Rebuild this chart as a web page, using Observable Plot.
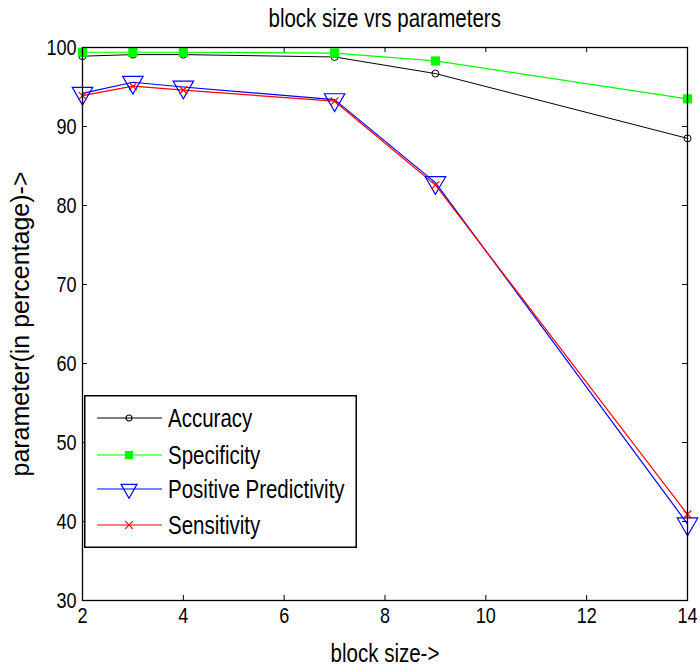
<!DOCTYPE html>
<html>
<head>
<meta charset="utf-8">
<script src="https://cdn.jsdelivr.net/npm/d3@7"></script>
<script src="https://cdn.jsdelivr.net/npm/@observablehq/plot@0.6"></script>
<style>
  html, body { margin: 0; padding: 0; background: #fff; }
  #wrap { position: relative; width: 700px; height: 669px; overflow: hidden; font-family: "Liberation Sans", Arial, sans-serif; }
  #title { height: 34px; line-height: 36px; font-size: 25px; text-align: center; padding-left: 82px; padding-right: 13px; color: #000; white-space: nowrap; }
  #title span { display: inline-block; transform: scaleX(0.82); }
  #legend { position: absolute; left: 84px; top: 395px; }
</style>
</head>
<body>
<div id="wrap">
  <div id="title"><span></span></div>
  <div id="chart"></div>
</div>
<script>
const titleText = "block size vrs parameters";
const xLabel = "block size->";
const yLabel = "parameter(in percentage)->";

const blockSize = [2, 3, 4, 7, 9, 14];
const accuracy = [98.9, 99.1, 99.1, 98.8, 96.7, 88.5];
const specificity = [99.4, 99.4, 99.4, 99.3, 98.3, 93.5];
const positivePredictivity = [94.2, 95.6, 95.0, 93.4, 82.9, 39.7];
const sensitivity = [93.9, 95.1, 94.6, 93.2, 82.6, 40.9];

const xTicks = [2, 4, 6, 8, 10, 12, 14];
const yTicks = [30, 40, 50, 60, 70, 80, 90, 100];

const seriesNames = ["Accuracy", "Specificity", "Positive Predictivity", "Sensitivity"];
const seriesValues = [accuracy, specificity, positivePredictivity, sensitivity];
const seriesColors = ["#000000", "#00ff00", "#0000ff", "#ff0000"];

const rows = seriesNames.map((name, i) => blockSize.map((x, j) => ({series: name, x, y: seriesValues[i][j]}))).flat();
const bySeries = name => rows.filter(d => d.series === name);

document.querySelector("#title span").textContent = titleText;

const W = 700, H = 635;
const mL = 82, mR = 13, mT = 13, mB = 69;
const innerW = W - mL - mR, innerH = H - mT - mB;
const tickLen = 5;
const font = "Liberation Sans, Arial, sans-serif";
const narrow = 0.82; // emulate the narrow sans of the original

const chart = Plot.plot({
  width: W,
  height: H,
  marginLeft: mL,
  marginRight: mR,
  marginTop: mT,
  marginBottom: mB,
  style: {fontFamily: font, color: "#000", background: "#fff"},
  x: {domain: [2, 14]},
  y: {domain: [30, 100]},
  marks: [
    Plot.axisX({ticks: xTicks, tickSize: 0, tickPadding: 7, fontSize: 22, label: null}),
    Plot.axisY({ticks: yTicks, tickSize: 0, tickPadding: 6, fontSize: 22, label: null}),
    Plot.tickX(xTicks, {x: d => d, insetTop: innerH - tickLen, stroke: "#000"}),
    Plot.tickX(xTicks, {x: d => d, insetBottom: innerH - tickLen, stroke: "#000"}),
    Plot.tickY(yTicks, {y: d => d, insetRight: innerW - tickLen, stroke: "#000"}),
    Plot.tickY(yTicks, {y: d => d, insetLeft: innerW - tickLen, stroke: "#000"}),
    Plot.line(bySeries("Accuracy"), {x: "x", y: "y", stroke: seriesColors[0], strokeWidth: 1}),
    Plot.line(bySeries("Specificity"), {x: "x", y: "y", stroke: seriesColors[1], strokeWidth: 1.2}),
    Plot.line(bySeries("Positive Predictivity"), {x: "x", y: "y", stroke: seriesColors[2], strokeWidth: 1.2}),
    Plot.line(bySeries("Sensitivity"), {x: "x", y: "y", stroke: seriesColors[3], strokeWidth: 1.2}),
    Plot.dot(bySeries("Accuracy"), {x: "x", y: "y", symbol: "circle", r: 3.5, stroke: seriesColors[0], fill: "none", strokeWidth: 1}),
    Plot.dot(bySeries("Specificity"), {x: "x", y: "y", symbol: "square", r: 5.2, fill: seriesColors[1], stroke: "none"}),
    Plot.dot(bySeries("Positive Predictivity"), {x: "x", y: "y", symbol: "triangle", r: 7.6, rotate: 180, stroke: seriesColors[2], fill: "none", strokeWidth: 1.2}),
    Plot.dot(bySeries("Sensitivity"), {x: "x", y: "y", symbol: "times", r: 3.6, stroke: seriesColors[3], strokeWidth: 1.2}),
    Plot.frame({stroke: "#000", strokeWidth: 1.3}),
    Plot.text([xLabel], {frameAnchor: "bottom", dy: 44, fontSize: 25, lineAnchor: "top", fill: "#000"}),
    Plot.text([yLabel], {frameAnchor: "left", textAnchor: "middle", dx: -62, rotate: -90, fontSize: 25, fill: "#000"})
  ]
});
document.getElementById("chart").appendChild(chart);

function condense(el) {
  const w = el.getComputedTextLength();
  if (w > 0) {
    el.setAttribute("textLength", (w * narrow).toFixed(2));
    el.setAttribute("lengthAdjust", "spacingAndGlyphs");
  }
}
chart.querySelectorAll("text").forEach(t => {
  if (t.textContent !== yLabel) condense(t);
});

// Legend box (MATLAB-style) drawn with d3
const lw = 273, lh = 153;
const legend = d3.select("#wrap").append("svg")
  .attr("id", "legend")
  .attr("width", lw)
  .attr("height", lh)
  .style("font-family", font);
legend.append("rect").attr("x", 0.75).attr("y", 0.75).attr("width", lw - 1.5).attr("height", lh - 1.5)
  .attr("fill", "#fff").attr("stroke", "#000").attr("stroke-width", 1.5);
const rowY = [23, 60, 94, 130];
const symbols = [
  {type: d3.symbolCircle, r: 3, fill: "none"},
  {type: d3.symbolSquare2, r: 5.2, fill: "#00ff00"},
  {type: d3.symbolTriangle2, r: 7.6, fill: "none", rotate: 180},
  {type: d3.symbolTimes, r: 3.6, fill: "none"}
];
seriesNames.forEach((name, i) => {
  const g = legend.append("g").attr("transform", `translate(0,${rowY[i]})`);
  g.append("line").attr("x1", 13).attr("x2", 78).attr("y1", 0).attr("y2", 0)
    .attr("stroke", seriesColors[i]).attr("stroke-width", 1.2);
  const s = symbols[i];
  g.append("path")
    .attr("d", d3.symbol(s.type, Math.PI * s.r * s.r)())
    .attr("transform", `translate(45,0)${s.rotate ? " rotate(180)" : ""}`)
    .attr("fill", s.fill)
    .attr("stroke", i === 1 ? "none" : seriesColors[i])
    .attr("stroke-width", 1.2);
  const t = g.append("text").attr("x", 84).attr("y", 0).attr("dy", "0.36em")
    .attr("font-size", 25).attr("fill", "#000").text(name);
  condense(t.node());
});
</script>
</body>
</html>
